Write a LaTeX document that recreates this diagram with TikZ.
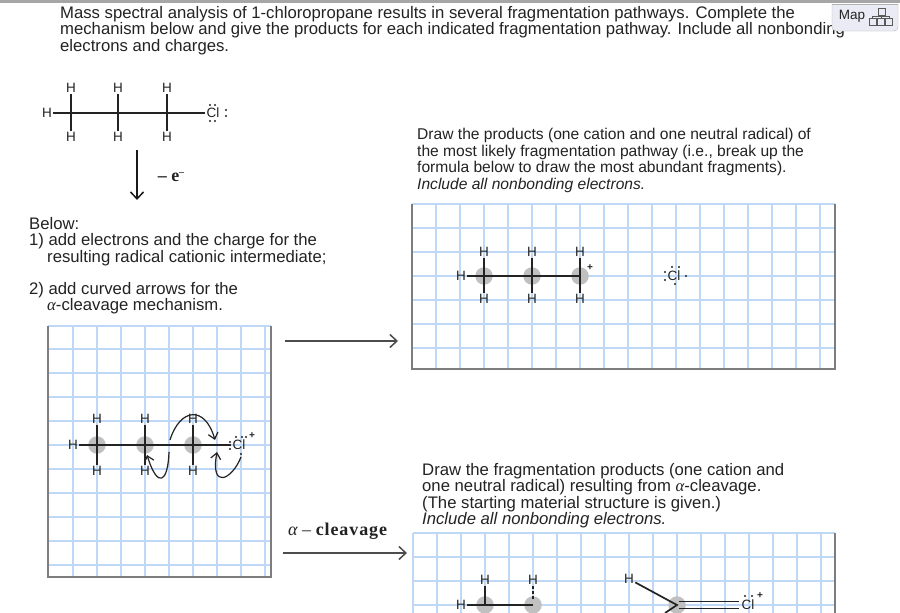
\documentclass[tikz,border=0pt]{standalone}
\usepackage{fontspec}
\setmainfont{Liberation Sans}
\newfontfamily\labelserif{Liberation Serif}
\usetikzlibrary{arrows.meta}

\definecolor{gridblue}{RGB}{190,216,245}
\definecolor{framegray}{RGB}{125,125,125}
\definecolor{inkdark}{RGB}{35,35,35}
\definecolor{atomgray}{RGB}{192,192,192}
\definecolor{mapfill}{RGB}{233,236,245}

\tikzset{
  para/.style={anchor=north west,inner sep=0pt,align=left,text=inkdark,
    font=\fontsize{16.7}{16.4}\selectfont},
  atom/.style={inner sep=0pt,outer sep=1.5pt,text=inkdark,font=\fontsize{13.5}{13.5}\selectfont},
  carbon/.style={circle,fill=atomgray,minimum size=17.5pt,inner sep=0pt},
  bond/.style={line width=1.7pt,inkdark},
  bigbond/.style={line width=2.6pt,inkdark},
  flow/.style={-{Straight Barb[length=7pt,width=13pt]},line width=1.5pt,black!70},
  curly/.style={-{Straight Barb[length=6pt,width=10pt]},line width=1.2pt,inkdark},
  gridline/.style={gridblue,line width=1.15pt},
  frameline/.style={framegray,line width=1.2pt},
  elec/.style={fill=inkdark},
}

\begin{document}
\begin{tikzpicture}[x=1pt,y=-1pt]
\useasboundingbox (0,0) rectangle (900,613);
\clip (0,0) rectangle (900,613);
\fill[white] (0,0) rectangle (900,613);
\fill[black!35] (0,0) rectangle (900,3);

% question text
\node[para] (intro) at (60,6) {Mass spectral analysis of 1-chloropropane results in several fragmentation pathways. Complete the\\
mechanism below and give the products for each indicated fragmentation pathway. Include all nonbonding\\
electrons and charges.};
\node[para] (below) at (29,217) {Below:\\1) add electrons and the charge for the\\
\hspace{18pt}resulting radical cationic intermediate;};
\node[para] (addarrows) at (29,282) {2) add curved arrows for the\\
\hspace{18pt}{\labelserif\itshape α}-cleavage mechanism.};
\node[para,font=\fontsize{15.6}{16.6}\selectfont] (drawone) at (417,128) {Draw the products (one cation and one neutral radical) of\\
the most likely fragmentation pathway (i.e., break up the\\
formula below to draw the most abundant fragments).\\
\textit{Include all nonbonding electrons.}};
\node[para] (drawtwo) at (422,463) {Draw the fragmentation products (one cation and\\
one neutral radical) resulting from {\labelserif\itshape α}-cleavage.\\
(The starting material structure is given.)\\
\textit{Include all nonbonding electrons.}};

% map button
\draw[black!30,fill=mapfill,rounded corners=4pt] (832,4) -- (832,31) -- (898,31) -- (898,4);
\draw[black!30] (832,4)--(898,4);
\node[atom,font=\fontsize{13.5}{13.5}\selectfont] (maplabel) at (852,16) {Map};
\draw[black!65,line width=.8pt] (878,8) rectangle (885,15) (869,18) rectangle (876,25)
  (877,18) rectangle (884,25) (885,18) rectangle (892,25)
  (881.5,15)--(881.5,18) (872,18)--(872,16.5)--(889,16.5)--(889,18);

% top structure
\foreach \i/\x in {1/71,2/118,3/167}{
  \node[atom] (topup\i) at (\x,88) {H};
  \node[atom] (topdn\i) at (\x,137) {H};
  \draw[bond] (topup\i)--(topdn\i);
}
\node[atom] (toph) at (47,113) {H};
\node[atom] (topcl) at (213,113) {Cl};
\draw[bond] (toph)--(topcl);
\foreach \x/\y in {210/105,215/105,210/121,215/121,226/110,226/116}
  \fill[elec] (\x,\y) circle (1.1pt);

\coordinate (downa) at (137,150);
\coordinate (downb) at (137,200);
\draw[flow,black!90] (downa)--(downb);
\node[atom,font=\labelserif\fontsize{18}{18}\selectfont\bfseries] (loss) at (171,177) {– e\raisebox{6pt}{\fontsize{10}{10}\selectfont –}};

% grid left
\foreach \x in {73,97,...,265} \draw[gridline] (\x,326)--(\x,577);
\foreach \y in {326,349,373,397,421,445,469,493,517,541,565} \draw[gridline] (48,\y)--(271,\y);
\draw[frameline] (48,326)--(48,577)--(271,577)--(271,326);

% grid right
\foreach \x in {436,460,...,820} \draw[gridline] (\x,204)--(\x,369);
\foreach \y in {204,228,252,276,300,324,348} \draw[gridline] (412,\y)--(835,\y);
\draw[frameline] (412,204)--(412,369)--(835,369)--(835,204);

% grid bottom
\foreach \x in {437,461,...,821} \draw[gridline] (\x,533)--(\x,613);
\foreach \y in {533,557,581,605} \draw[gridline] (413,\y)--(835,\y);
\draw[gridline] (413,533)--(413,613);
\draw[frameline] (835,533)--(835,613);

% left molecule
\foreach \i/\x in {1/97,2/145,3/193}{
  \node[carbon] (lefc\i) at (\x,445) {};
  \node[atom] (lefup\i) at (\x,419) {H};
  \node[atom] (lefdn\i) at (\x,471) {H};
  \draw[bigbond] (lefup\i)--(lefc\i.center)--(lefdn\i);
}
\node[atom] (lefh) at (73,445) {H};
\node[atom] (lefcl) at (239,445) {Cl};
\node[atom,font=\fontsize{10}{10}\selectfont] (lefplus) at (252,436) {\textbf{+}};
\draw[bond] (lefh)--(lefcl);
\foreach \x/\y in {236/437,242/437,230/442,230/449,241/454,246/437}{\fill[elec] (\x,\y) circle (1.1pt);}
\coordinate (bondmid) at (170,440);
\coordinate (bondlow) at (169,452);
\coordinate (bondtip) at (215,440);
\coordinate (hbond) at (147,455);
\coordinate (cllone) at (241,457);
\coordinate (cltip) at (217,452);
\draw[curly] (bondmid) .. controls (180,408) and (205,405) .. (bondtip);
\draw[curly] (bondlow) .. controls (168,482) and (158,490) .. (hbond);
\draw[curly] (cllone) .. controls (232,480) and (210,490) .. (cltip);

% right molecule
\foreach \i/\x in {1/484,2/532,3/580}{
  \node[carbon] (rigc\i) at (\x,276) {};
  \node[atom] (rigup\i) at (\x,252) {H};
  \node[atom] (rigdn\i) at (\x,299) {H};
  \draw[bigbond] (rigup\i)--(rigc\i.center)--(rigdn\i);
}
\node[atom] (righ) at (461,276) {H};
\draw[bond] (righ)--(rigc1.center)--(rigc2.center)--(rigc3.center);
\node[atom,font=\fontsize{10}{10}\selectfont] (rigplus) at (590,268) {\textbf{+}};
\node[atom] (rigcl) at (674,276) {Cl};
\foreach \x/\y in {672/267,679/267,665/272,665/280,675/284,686/276}
  \fill[elec] (\x,\y) circle (1.1pt);

% bottom molecule
\foreach \i/\x in {1/485,2/533}{
  \node[carbon] (botc\i) at (\x,605) {};
  \node[atom] (botup\i) at (\x,580) {H};
}
\node[atom] (both) at (461,605) {H};
\draw[bond] (both)--(botc1.center)--(botc2.center);
\draw[bigbond] (botup1)--(botc1.center);
\draw[bigbond,dash pattern=on 3pt off 2pt on 3pt off 2pt on 3pt off 9pt] (botup2)--(botc2.center);
\node[carbon] (botc3) at (677,605) {};
\node[atom] (bothh) at (629,579) {H};
\node[atom] (botcl) at (748,605) {Cl};
\node[atom,font=\fontsize{10}{10}\selectfont] (botplus) at (760,596) {\textbf{+}};
\coordinate (botlow) at (665,613);
\draw[bond] (bothh)--(botc3.center)--(botlow);
\draw[bond] (679,601.5)--(739,601.5) (679,608.5)--(739,608.5);
\foreach \x in {745,752} \fill[elec] (\x,596) circle (1.1pt);

% reaction arrows
\coordinate (arrowa) at (285,341);
\coordinate (arrowb) at (398,341);
\coordinate (arrowc) at (283,553);
\coordinate (arrowd) at (407,553);
\draw[flow] (arrowa)--(arrowb);
\draw[flow] (arrowc)--(arrowd);
\node[anchor=west,inner sep=0pt,text=inkdark,font=\labelserif\fontsize{18}{18}\selectfont] (alphalab) at (288,531) {{\itshape α} – \addfontfeature{LetterSpace=5}\textbf{cleavage}};
\end{tikzpicture}
\end{document}
